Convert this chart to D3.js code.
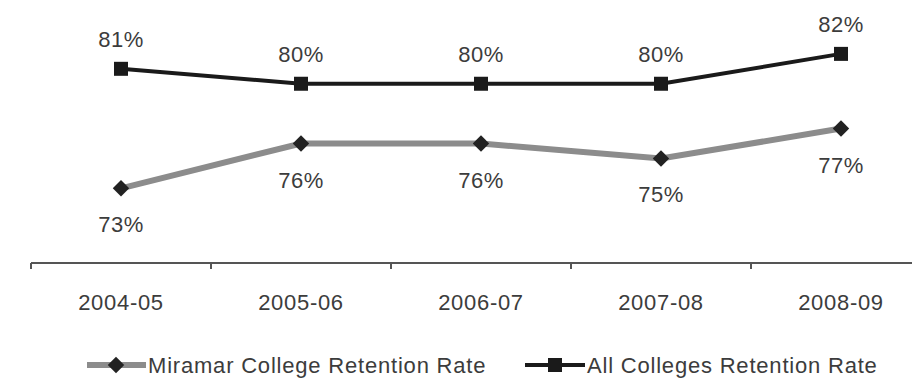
<!DOCTYPE html>
<html>
<head>
<meta charset="utf-8">
<script src="https://cdn.jsdelivr.net/npm/d3@7"></script>
<style>
  html, body { margin: 0; padding: 0; background: #ffffff; }
  svg text { font-family: "Liberation Sans", Arial, sans-serif; }
</style>
</head>
<body>
<svg id="chart" width="912" height="379"></svg>
<script>
// Academic years on the x axis
const years = ["2004-05", "2005-06", "2006-07", "2007-08", "2008-09"];
// Retention rates (%)
const miramarRates = [73, 76, 76, 75, 77];
const allCollegesRates = [81, 80, 80, 80, 82];
const seriesNames = ["Miramar College Retention Rate", "All Colleges Retention Rate"];

const svg = d3.select("#chart");
const W = 912, H = 379;
const axisY = 263;
const fontSize = 22;
const textColor = "#3c3c3c";

const x = d3.scaleBand().domain(years).range([31, 931]).padding(0);
const y = d3.scaleLinear().domain([68, 84]).range([axisY, 24]);
const cx = d => x(d) + x.bandwidth() / 2;

// Category axis: line with ticks at band boundaries
const axisG = svg.append("g").attr("transform", `translate(0,${axisY})`);
axisG.append("line")
  .attr("x1", 31).attr("x2", W + 20)
  .attr("stroke", "#555").attr("stroke-width", 2);
axisG.selectAll("line.tick")
  .data(years)
  .join("line")
  .attr("class", "tick")
  .attr("x1", d => x(d)).attr("x2", d => x(d))
  .attr("y1", 0).attr("y2", 6)
  .attr("stroke", "#555").attr("stroke-width", 2);
axisG.selectAll("text")
  .data(years)
  .join("text")
  .attr("x", d => cx(d))
  .attr("y", 47)
  .attr("text-anchor", "middle")
  .attr("font-size", fontSize)
  .attr("letter-spacing", "0.7px")
  .attr("fill", textColor)
  .text(d => d);

const line = d3.line().x(d => cx(d.year)).y(d => y(d.v));

const miramar = years.map((yr, i) => ({ year: yr, v: miramarRates[i] }));
const allCol = years.map((yr, i) => ({ year: yr, v: allCollegesRates[i] }));

// A square rotated 45° gives the diamond marker
const diamondPath = d3.symbol().type(d3.symbolSquare).size(135);

// Miramar series (gray line, diamond markers, labels below)
svg.append("path")
  .datum(miramar)
  .attr("d", line)
  .attr("fill", "none")
  .attr("stroke", "#8c8c8c")
  .attr("stroke-width", 6);
svg.selectAll("path.diamond")
  .data(miramar)
  .join("path")
  .attr("class", "diamond")
  .attr("transform", d => `translate(${cx(d.year)},${y(d.v)}) rotate(45)`)
  .attr("d", diamondPath)
  .attr("fill", "#222");
svg.selectAll("text.mlabel")
  .data(miramar)
  .join("text")
  .attr("class", "mlabel")
  .attr("x", d => cx(d.year))
  .attr("y", d => y(d.v) + 44)
  .attr("text-anchor", "middle")
  .attr("font-size", fontSize)
  .attr("letter-spacing", "0.5px")
  .attr("fill", textColor)
  .text(d => d.v + "%");

// All colleges series (black line, square markers, labels above)
svg.append("path")
  .datum(allCol)
  .attr("d", line)
  .attr("fill", "none")
  .attr("stroke", "#1a1a1a")
  .attr("stroke-width", 4);
svg.selectAll("rect.square")
  .data(allCol)
  .join("rect")
  .attr("class", "square")
  .attr("x", d => cx(d.year) - 7)
  .attr("y", d => y(d.v) - 7)
  .attr("width", 14).attr("height", 14)
  .attr("fill", "#1a1a1a");
svg.selectAll("text.alabel")
  .data(allCol)
  .join("text")
  .attr("class", "alabel")
  .attr("x", d => cx(d.year))
  .attr("y", d => y(d.v) - 22)
  .attr("text-anchor", "middle")
  .attr("font-size", fontSize)
  .attr("letter-spacing", "0.5px")
  .attr("fill", textColor)
  .text(d => d.v + "%");

// Legend
const legY = 365;
const leg1 = svg.append("g").attr("transform", `translate(87,${legY})`);
leg1.append("line").attr("x1", 0).attr("x2", 59).attr("stroke", "#8c8c8c").attr("stroke-width", 6);
leg1.append("path")
  .attr("transform", "translate(29,0) rotate(45)")
  .attr("d", diamondPath)
  .attr("fill", "#222");
leg1.append("text")
  .attr("x", 61).attr("y", 8)
  .attr("font-size", fontSize)
  .attr("letter-spacing", "0.8px")
  .attr("fill", textColor)
  .text(seriesNames[0]);

const leg2 = svg.append("g").attr("transform", `translate(525,${legY})`);
leg2.append("line").attr("x1", 0).attr("x2", 60).attr("stroke", "#1a1a1a").attr("stroke-width", 4);
leg2.append("rect").attr("x", 23).attr("y", -7).attr("width", 14).attr("height", 14).attr("fill", "#1a1a1a");
leg2.append("text")
  .attr("x", 62).attr("y", 8)
  .attr("font-size", fontSize)
  .attr("letter-spacing", "0.8px")
  .attr("fill", textColor)
  .text(seriesNames[1]);
</script>
</body>
</html>
